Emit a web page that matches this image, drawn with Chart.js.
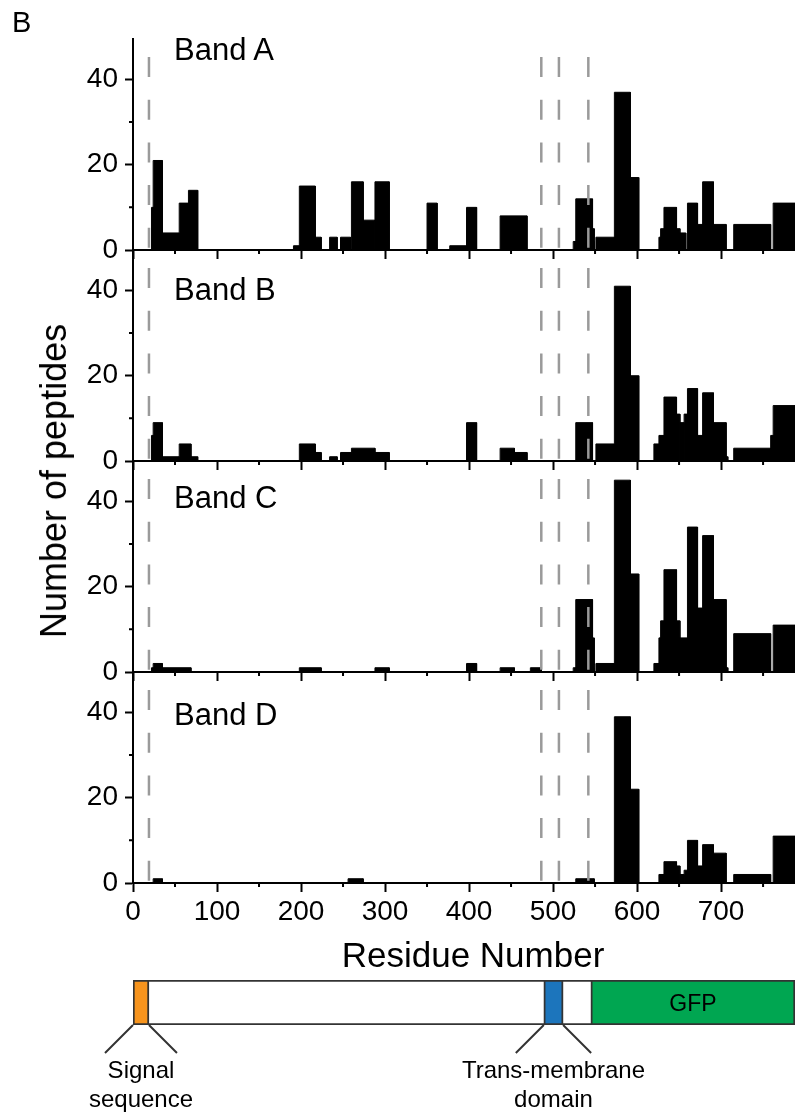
<!DOCTYPE html>
<html>
<head>
<meta charset="utf-8">
<title>Peptide coverage per band</title>
<script src="https://cdn.jsdelivr.net/npm/chart.js@4.4.1/dist/chart.umd.min.js"></script>
<style>
  body { margin: 0; background: #fff; }
  #fig { position: relative; width: 795px; height: 1114px; overflow: hidden;
         font-family: "Liberation Sans", Arial, sans-serif; color: #000; }
  #fig canvas { position: absolute; left: 0; }
  .txt { position: absolute; white-space: nowrap; line-height: 1; }
</style>
</head>
<body>
<div id="fig"></div>
<script>
// ---- data ----
const residueMax = 788;
const countMax = 49.5;
const bandNames = ['Band A', 'Band B', 'Band C', 'Band D'];
const xTicks = [0, 100, 200, 300, 400, 500, 600, 700];
const xMinor = [50, 150, 250, 350, 450, 550, 650, 750];
const yTicks = [0, 20, 40];
const yMinor = [10, 30];
const dividers = [19, 486, 507, 542];

// peptide segments: first residue, last residue, number of peptides
const aStart = [22, 24, 35, 55, 66, 191, 198, 217, 234, 247, 260, 274, 288, 350, 377, 397, 437, 524, 527, 541, 551, 573, 592, 626, 628, 632, 647, 660, 672, 678, 691, 715, 762];
const aEnd   = [35, 35, 55, 66, 77, 198, 217, 224, 243, 259, 274, 288, 305, 362, 397, 409, 469, 549, 547, 549, 573, 592, 602, 632, 651, 647, 658, 672, 678, 691, 706, 759, 788];
const aCount = [10, 21, 4, 11, 14, 1, 15, 3, 3, 3, 16, 7, 16, 11, 1, 10, 8, 2, 12, 5, 3, 37, 17, 3, 5, 10, 4, 11, 6, 16, 6, 6, 11];

const bStart = [22, 24, 35, 55, 69, 198, 217, 234, 247, 260, 288, 397, 437, 454, 527, 551, 573, 592, 620, 626, 632, 647, 651, 656, 660, 672, 678, 691, 706, 715, 759, 762];
const bEnd   = [35, 35, 55, 69, 77, 217, 224, 243, 260, 288, 305, 409, 454, 469, 547, 573, 592, 602, 627, 632, 647, 651, 656, 660, 672, 678, 691, 706, 708, 759, 788, 788];
const bCount = [6, 9, 1, 4, 1, 4, 2, 1, 2, 3, 2, 9, 3, 2, 9, 4, 41, 20, 4, 6, 15, 11, 9, 11, 17, 6, 16, 9, 1, 3, 6, 13];

const cStart = [22, 24, 198, 288, 397, 437, 473, 524, 527, 541, 551, 573, 592, 620, 626, 628, 632, 651, 660, 672, 678, 691, 706, 715, 762];
const cEnd   = [69, 35, 224, 305, 409, 454, 486, 549, 547, 549, 573, 592, 602, 627, 651, 651, 647, 660, 672, 678, 691, 706, 708, 759, 788];
const cCount = [1, 2, 1, 1, 2, 1, 1, 1, 17, 8, 2, 45, 23, 2, 8, 12, 24, 8, 34, 15, 32, 17, 1, 9, 11];

const dStart = [24, 256, 527, 573, 592, 626, 632, 647, 651, 656, 660, 672, 678, 691, 715, 762];
const dEnd   = [35, 274, 549, 592, 602, 632, 647, 651, 656, 660, 672, 678, 691, 706, 759, 788];
const dCount = [1, 1, 1, 39, 22, 2, 5, 4, 2, 3, 10, 4, 9, 7, 2, 11];

// construct map below the axis
const domainLabels = [['Signal', 'sequence'], ['Trans-membrane', 'domain'], ['GFP']];
const domainStart = [0, 489, 545];
const domainEnd = [19, 512, 788];
const domainColors = ['#F7941D', '#1C75BC', '#00A651'];

// ---- layout ----
const FONT = '"Liberation Sans", Arial, sans-serif';
Chart.defaults.font.family = FONT;
Chart.defaults.color = '#000';

const fig = document.getElementById('fig');
const panelTop = [39, 250, 461, 672];
const panelH = 211;
const axisLeft = 133;
const padTop = 30;

const bands = [
  { start: aStart, end: aEnd, count: aCount },
  { start: bStart, end: bEnd, count: bCount },
  { start: cStart, end: cEnd, count: cCount },
  { start: dStart, end: dEnd, count: dCount }
];

function addText(str, x, baseline, size, align) {
  const d = document.createElement('div');
  d.className = 'txt';
  d.textContent = str;
  d.style.fontSize = size + 'px';
  d.style.top = (baseline - 0.8465 * size) + 'px';
  if (align === 'center') { d.style.left = x + 'px'; d.style.transform = 'translateX(-50%)'; }
  else d.style.left = x + 'px';
  fig.appendChild(d);
  return d;
}

// each segment is a filled rectangle drawn as a closed line down to zero
function segmentSets(start, end, count) {
  return start.map((s, i) => ({
    data: [{ x: s, y: 0 }, { x: s, y: count[i] }, { x: end[i], y: count[i] }, { x: end[i], y: 0 }],
    showLine: true, fill: 'origin', tension: 0,
    backgroundColor: '#000', borderColor: '#000', borderWidth: 1,
    pointRadius: 0, order: 1
  }));
}

function dividerSets() {
  return dividers.map(v => ({
    data: [{ x: v, y: countMax }, { x: v, y: 0 }],
    showLine: true, fill: false,
    borderColor: '#9a9a9a', borderWidth: 2.5,
    borderDash: [20, 22.7], borderDashOffset: 24.7,
    pointRadius: 0, order: 0
  }));
}

const minorTicks = {
  id: 'minorTicks',
  afterDraw(chart) {
    const { ctx, chartArea: a } = chart;
    const x = chart.scales.x, y = chart.scales.y;
    ctx.save();
    ctx.strokeStyle = '#000';
    ctx.lineWidth = 2;
    ctx.beginPath();
    xMinor.forEach(v => {
      const px = x.getPixelForValue(v);
      ctx.moveTo(px, a.bottom); ctx.lineTo(px, a.bottom + 4);
    });
    yMinor.forEach(v => {
      const py = y.getPixelForValue(v);
      ctx.moveTo(a.left, py); ctx.lineTo(a.left - 4, py);
    });
    ctx.stroke();
    ctx.restore();
  }
};

bands.forEach((band, i) => {
  const last = i === bands.length - 1;
  const bottomRoom = last ? 60 : 30;
  const cv = document.createElement('canvas');
  cv.width = 795;
  cv.height = padTop + panelH + bottomRoom;
  cv.style.top = (panelTop[i] - padTop) + 'px';
  fig.appendChild(cv);

  new Chart(cv, {
    type: 'scatter',
    data: { datasets: segmentSets(band.start, band.end, band.count).concat(dividerSets()) },
    options: {
      responsive: false,
      animation: false,
      events: [],
      layout: { padding: { top: padTop, left: 0, right: 0, bottom: 0 } },
      plugins: { legend: { display: false }, tooltip: { enabled: false } },
      scales: {
        x: {
          type: 'linear', min: 0, max: residueMax,
          afterBuildTicks: s => { s.ticks = xTicks.map(v => ({ value: v })); },
          afterFit: s => { s.height = bottomRoom; },
          grid: { drawOnChartArea: false, drawTicks: true, tickLength: 9, tickWidth: 2, tickColor: '#000' },
          border: { display: true, color: '#000', width: 2 },
          ticks: { display: last, autoSkip: false, maxRotation: 0, padding: 3,
                   font: { size: 28 }, color: '#000' }
        },
        y: {
          min: 0, max: countMax,
          afterBuildTicks: s => { s.ticks = yTicks.map(v => ({ value: v })); },
          afterFit: s => { s.width = axisLeft; },
          grid: { drawOnChartArea: false, drawTicks: true, tickLength: 8, tickWidth: 2, tickColor: '#000' },
          border: { display: true, color: '#000', width: 2 },
          ticks: { padding: 7, font: { size: 28 }, color: '#000' }
        }
      }
    },
    plugins: [minorTicks]
  });
});

// ---- construct map ----
const domainDecor = {
  id: 'domainDecor',
  afterDraw(chart) {
    const { ctx, chartArea: a } = chart;
    const x = chart.scales.x;
    ctx.save();
    ctx.strokeStyle = '#333';
    ctx.lineWidth = 2;
    ctx.fillStyle = '#000';
    ctx.textAlign = 'center';
    ctx.textBaseline = 'alphabetic';
    ctx.font = '24px ' + FONT;
    for (let i = 0; i < 2; i++) {
      const l = x.getPixelForValue(domainStart[i]);
      const r = x.getPixelForValue(domainEnd[i]);
      ctx.beginPath();
      ctx.moveTo(l, a.bottom); ctx.lineTo(l - 28, a.bottom + 28);
      ctx.moveTo(r, a.bottom); ctx.lineTo(r + 28, a.bottom + 28);
      ctx.stroke();
      const cx = (l + r) / 2;
      ctx.fillText(domainLabels[i][0], cx, a.bottom + 53);
      ctx.fillText(domainLabels[i][1], cx, a.bottom + 82);
    }
    const g0 = x.getPixelForValue(domainStart[2]);
    const g1 = x.getPixelForValue(domainEnd[2]);
    ctx.font = '23px ' + FONT;
    ctx.fillText(domainLabels[2][0], (g0 + g1) / 2, (a.top + a.bottom) / 2 + 8.2);
    ctx.restore();
  }
};

const mapCanvas = document.createElement('canvas');
mapCanvas.width = 795;
mapCanvas.height = 139;
mapCanvas.style.top = '975px';
fig.appendChild(mapCanvas);

new Chart(mapCanvas, {
  type: 'bar',
  data: {
    labels: ['construct'],
    datasets: [{ data: [[0, residueMax]], backgroundColor: '#fff', order: 2 }].concat(
      domainStart.map((s, i) => ({ data: [[s, domainEnd[i]]], backgroundColor: domainColors[i], order: 1 }))
    )
  },
  options: {
    indexAxis: 'y',
    responsive: false,
    animation: false,
    events: [],
    layout: { padding: { left: axisLeft, right: 0, top: 5, bottom: 89 } },
    datasets: { bar: { grouped: false, barPercentage: 1, categoryPercentage: 1,
                       borderWidth: 2, borderColor: '#333', borderSkipped: false } },
    plugins: { legend: { display: false }, tooltip: { enabled: false } },
    scales: {
      x: { type: 'linear', display: false, min: 0, max: residueMax },
      y: { display: false }
    }
  },
  plugins: [domainDecor]
});

// ---- titles ----
addText('B', 12, 33, 29);
const bandBaselines = [60, 300, 508, 725];
bandNames.forEach((n, i) => addText(n, 174, bandBaselines[i], 31));
addText('Residue Number', 473, 967, 35, 'center');

const yTitle = document.createElement('div');
yTitle.className = 'txt';
yTitle.textContent = 'Number of peptides';
yTitle.style.fontSize = '36px';
yTitle.style.left = '54px';
yTitle.style.top = '481px';
yTitle.style.transform = 'translate(-50%, -50%) rotate(-90deg)';
fig.appendChild(yTitle);
</script>
</body>
</html>
